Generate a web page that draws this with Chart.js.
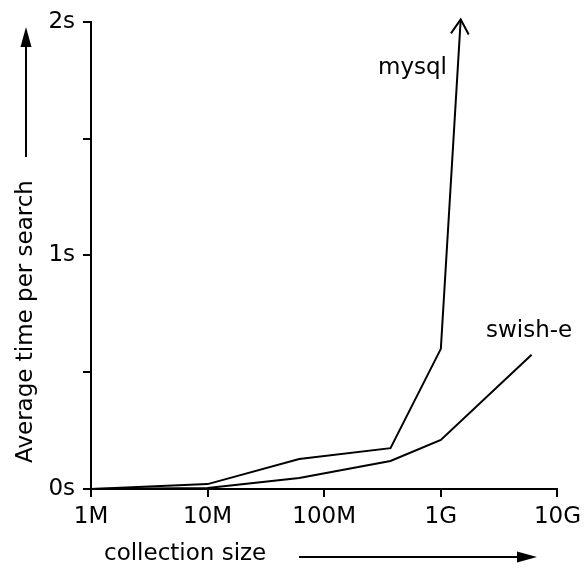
<!DOCTYPE html>
<html>
<head>
<meta charset="utf-8">
<script src="https://cdn.jsdelivr.net/npm/chart.js@4/dist/chart.umd.min.js"></script>
<style>
html,body{margin:0;padding:0;background:#fff;}
#wrap{width:587px;height:568px;position:relative;}
</style>
</head>
<body>
<div id="wrap"><canvas id="c" width="587" height="568"></canvas></div>
<script>
const xTickValues = [1e6, 1e7, 1e8, 1e9, 1e10];
const xTickLabels = ['1M', '10M', '100M', '1G', '10G'];
const yTickLabels = {0: '0s', 1: '1s', 2: '2s'};

const mysqlSizes = [1e6, 1e7, 6.1e7, 3.7e8, 1e9, 1.48e9];
const mysqlTimes = [0, 0.021, 0.128, 0.175, 0.6, 2.01];
const swishSizes = [1e6, 1e7, 6.1e7, 3.7e8, 1e9, 6e9];
const swishTimes = [0, 0.004, 0.047, 0.12, 0.21, 0.575];

const seriesNames = ['mysql', 'swish-e'];
const xTitle = 'collection size';
const yTitle = 'Average time per search';

const FONT = 'DejaVu Sans';
const FS = 23;

function pts(xs, ys) { return xs.map((x, i) => ({x: x, y: ys[i]})); }

function arrowHeadFilled(ctx, x, y, ang, len, half) {
  ctx.save();
  ctx.translate(x, y);
  ctx.rotate(ang);
  ctx.beginPath();
  ctx.moveTo(0, 0);
  ctx.lineTo(-len, -half);
  ctx.lineTo(-len, half);
  ctx.closePath();
  ctx.fill();
  ctx.restore();
}

const decor = {
  id: 'decor',
  afterDatasetsDraw(chart) {
    const ctx = chart.ctx;
    ctx.save();
    ctx.fillStyle = '#000';
    ctx.strokeStyle = '#000';
    ctx.lineWidth = 2;
    // open arrowhead at end of mysql
    const m = chart.getDatasetMeta(0).data;
    const a = m[m.length - 2], b = m[m.length - 1];
    const ang = Math.atan2(b.y - a.y, b.x - a.x);
    const L = 17, spread = 0.55;
    ctx.beginPath();
    ctx.moveTo(b.x - L * Math.cos(ang - spread), b.y - L * Math.sin(ang - spread));
    ctx.lineTo(b.x, b.y);
    ctx.lineTo(b.x - L * Math.cos(ang + spread), b.y - L * Math.sin(ang + spread));
    ctx.stroke();

    // series labels
    ctx.font = FS + 'px "' + FONT + '"';
    ctx.textBaseline = 'alphabetic';
    ctx.textAlign = 'left';
    ctx.fillText(seriesNames[0], 378, 74);
    ctx.fillText(seriesNames[1], 486, 337);

    // x title with arrow
    ctx.textBaseline = 'middle';
    ctx.fillText(xTitle, 104, 554);
    ctx.beginPath();
    ctx.moveTo(299, 557);
    ctx.lineTo(522, 557);
    ctx.stroke();
    arrowHeadFilled(ctx, 537, 557, 0, 20, 5.5);

    // y title with arrow (rotated)
    ctx.save();
    ctx.translate(26, 463);
    ctx.rotate(-Math.PI / 2);
    ctx.textAlign = 'left';
    ctx.textBaseline = 'middle';
    ctx.fillText(yTitle, 0, 0);
    const w = ctx.measureText(yTitle).width;
    ctx.beginPath();
    ctx.moveTo(463 - 157, 0);
    ctx.lineTo(463 - 27 - 16, 0);
    ctx.stroke();
    arrowHeadFilled(ctx, 463 - 27, 0, 0, 20, 5.5);
    ctx.restore();

    ctx.restore();
  }
};

new Chart(document.getElementById('c'), {
  type: 'line',
  data: {
    datasets: [
      {label: seriesNames[0], data: pts(mysqlSizes, mysqlTimes), borderColor: '#000', borderWidth: 2, pointRadius: 0, tension: 0, fill: false, clip: false},
      {label: seriesNames[1], data: pts(swishSizes, swishTimes), borderColor: '#000', borderWidth: 2, pointRadius: 0, tension: 0, fill: false, clip: false}
    ]
  },
  options: {
    responsive: false,
    animation: false,
    devicePixelRatio: 1,
    layout: {padding: {top: 20, right: 29, left: 0, bottom: 0}},
    plugins: {legend: {display: false}, tooltip: {enabled: false}},
    scales: {
      x: {
        type: 'logarithmic',
        min: 1e6, max: 1e10,
        afterBuildTicks(scale) { scale.ticks = xTickValues.map(v => ({value: v})); },
        afterFit(scale) { scale.height = 79; },
        grid: {display: true, drawOnChartArea: false, drawTicks: true, tickLength: 8, color: '#000', lineWidth: 2},
        border: {display: true, color: '#000', width: 2},
        ticks: {
          autoSkip: false, maxRotation: 0, padding: 6, color: '#000',
          font: {family: FONT, size: FS},
          callback(v) { const i = xTickValues.indexOf(v); return i >= 0 ? xTickLabels[i] : ''; }
        }
      },
      y: {
        type: 'linear',
        min: 0, max: 2,
        afterBuildTicks(scale) { scale.ticks = [0, 0.5, 1, 1.5, 2].map(v => ({value: v})); },
        afterFit(scale) { scale.width = 91; },
        grid: {display: true, drawOnChartArea: false, drawTicks: true, tickLength: 8, color: '#000', lineWidth: 2},
        border: {display: true, color: '#000', width: 2},
        ticks: {
          padding: 8, color: '#000',
          font: {family: FONT, size: FS},
          callback(v) { return yTickLabels[v] !== undefined ? yTickLabels[v] : ''; }
        }
      }
    }
  },
  plugins: [decor]
});
</script>
</body>
</html>
